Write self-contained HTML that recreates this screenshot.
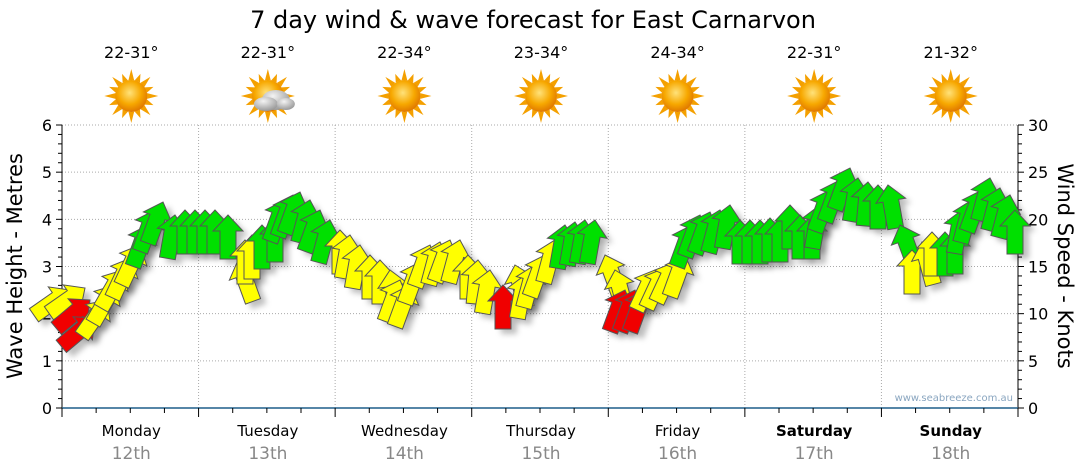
<!DOCTYPE html><html><head><style>body{margin:0;background:#fff}svg{display:block;font-family:"DejaVu Sans","Liberation Sans",sans-serif}</style></head><body>
<svg id="s" width="1080" height="475" xmlns="http://www.w3.org/2000/svg">
<defs><filter id="b" x="-50%" y="-50%" width="200%" height="200%"><feGaussianBlur stdDeviation="3"/></filter>
<radialGradient id="sun" cx="45%" cy="40%" r="60%"><stop offset="0" stop-color="#ffe27a"/><stop offset="0.6" stop-color="#f7a800"/><stop offset="1" stop-color="#e07800"/></radialGradient>
<radialGradient id="cl" cx="40%" cy="30%" r="70%"><stop offset="0" stop-color="#f4f4f4"/><stop offset="1" stop-color="#9a9a9a"/></radialGradient></defs>
<text x="533" y="28" font-size="24" text-anchor="middle" fill="#000">7 day wind &amp; wave forecast for East Carnarvon</text>
<g id="g"></g>
</svg>
<script>
const g=document.getElementById('g');let h='';
const X0=62,X1=1018,Y0=408,Y6=125,dy=(Y0-Y6)/6,dw=(X1-X0)/7;
for(let i=1;i<6;i++){const y=Y0-i*dy;h+=`<line x1="${X0}" x2="${X1}" y1="${y}" y2="${y}" stroke="#aaa" stroke-dasharray="1,2"/>`;}
h+=`<line x1="${X0}" x2="${X1}" y1="${Y6}" y2="${Y6}" stroke="#aaa" stroke-dasharray="1,2"/>`;
for(let i=1;i<7;i++){const x=X0+i*dw;h+=`<line x1="${x}" x2="${x}" y1="${Y6}" y2="${Y0}" stroke="#aaa" stroke-dasharray="1,2"/>`;}
h+=`<line x1="${X0}" x2="${X0}" y1="${Y6}" y2="${Y0}" stroke="#000"/><line x1="${X1}" x2="${X1}" y1="${Y6}" y2="${Y0}" stroke="#000"/>`;
for(let i=0;i<=30;i++){const y=Y0-i*dy/5;const big=i%5==0;h+=`<line x1="${X0-(big?6:4)}" x2="${X0}" y1="${y}" y2="${y}" stroke="#000"/><line x1="${X1}" x2="${X1+(big?6:4)}" y1="${y}" y2="${y}" stroke="#000"/>`;
if(big){h+=`<text x="${X0-10}" y="${y+6}" font-size="16" text-anchor="end">${i/5}</text><text x="${X1+10}" y="${y+6}" font-size="16">${i}</text>`;}}
h+=`<line x1="${X0}" x2="${X1}" y1="${Y0}" y2="${Y0}" stroke="#1f5f8a" stroke-width="1.5"/>`;
for(let i=0;i<=28;i++){const x=X0+i*dw/4;const big=i%4==0;h+=`<line x1="${x}" x2="${x}" y1="${Y0}" y2="${Y0+(big?9:5)}" stroke="#000"/>`;}
h+=`<text transform="translate(22,266) rotate(-90)" font-size="21" text-anchor="middle">Wave Height - Metres</text>`;
h+=`<text transform="translate(1058,266) rotate(90)" font-size="21" text-anchor="middle">Wind Speed - Knots</text>`;
h+=`<text x="1013" y="401" font-size="10" fill="#8aa6c0" text-anchor="end">www.seabreeze.com.au</text>`;
const days=['Monday','Tuesday','Wednesday','Thursday','Friday','Saturday','Sunday'],temps=['22-31°','22-31°','22-34°','23-34°','24-34°','22-31°','21-32°'];
days.forEach((d,i)=>{const x=X0+i*dw+dw/2+1;const bold=i>=5?'font-weight="bold"':'';
h+=`<text x="${x}" y="436" font-size="15" text-anchor="middle" ${bold}>${d}</text><text x="${x}" y="459" font-size="17" fill="#888" text-anchor="middle">${12+i}th</text>`;
h+=`<text x="${x}" y="58" font-size="16" text-anchor="middle">${temps[i]}</text>`;
const cy=96;let r='';for(let k=0;k<16;k++){const a=k*Math.PI/8;const c=Math.cos(a),s=Math.sin(a),l=k%2?24:27;r+=`<polygon points="${x+c*l},${cy+s*l} ${x+Math.cos(a+0.18)*16},${cy+Math.sin(a+0.18)*16} ${x+Math.cos(a-0.18)*16},${cy+Math.sin(a-0.18)*16}" fill="#f4a000"/>`;}
h+=r+`<circle cx="${x}" cy="${cy}" r="16" fill="url(#sun)"/>`;
if(i==1)h+=`<g fill="url(#cl)"><ellipse cx="${x+8}" cy="${cy+4}" rx="14" ry="10"/><ellipse cx="${x-2}" cy="${cy+8}" rx="12" ry="7"/><ellipse cx="${x+18}" cy="${cy+8}" rx="9" ry="6"/></g>`;});
const A=[[70,290,55,'Y'],[85,288,55,'Y'],[90,300,50,'R'],[95,318,50,'R'],[107,300,35,'Y'],[115,285,30,'Y'],[123,270,30,'Y'],[131,258,25,'Y'],[140,245,25,'Y'],[148,225,20,'G'],[155,210,20,'G'],[163,202,20,'G'],[175,215,10,'G'],[185,210,0,'G'],[195,210,0,'G'],[205,210,0,'G'],[215,210,0,'G'],[228,215,0,'G'],[238,260,-20,'Y'],[245,240,0,'Y'],[252,235,0,'Y'],[262,225,0,'G'],[275,218,0,'G'],[285,200,20,'G'],[293,195,20,'G'],[300,192,20,'G'],[310,200,15,'G'],[320,210,20,'G'],[330,220,15,'G'],[340,230,0,'Y'],[350,235,10,'Y'],[360,245,10,'Y'],[370,255,0,'Y'],[380,260,0,'Y'],[390,270,-10,'Y'],[400,280,20,'Y'],[410,285,20,'Y'],[420,262,20,'Y'],[430,245,20,'Y'],[440,242,15,'Y'],[450,240,20,'Y'],[460,240,15,'Y'],[468,255,0,'Y'],[478,260,5,'Y'],[490,270,10,'Y'],[503,285,0,'R'],[515,265,-15,'Y'],[525,275,10,'Y'],[535,265,15,'Y'],[545,255,20,'Y'],[555,240,15,'Y'],[565,225,10,'G'],[575,222,10,'G'],[585,220,10,'G'],[595,220,10,'G'],[605,255,-20,'Y'],[615,270,-15,'Y'],[625,290,20,'R'],[635,290,20,'R'],[645,290,20,'R'],[655,270,25,'Y'],[665,268,25,'Y'],[675,262,25,'Y'],[685,255,20,'Y'],[692,225,20,'G'],[700,215,20,'G'],[710,212,20,'G'],[720,210,15,'G'],[730,205,10,'G'],[740,220,0,'G'],[750,220,0,'G'],[760,220,0,'G'],[770,218,0,'G'],[780,218,0,'G'],[790,205,0,'G'],[800,215,0,'G'],[812,215,0,'G'],[820,205,10,'G'],[830,190,20,'G'],[840,180,20,'G'],[850,168,20,'G'],[858,178,10,'G'],[868,182,5,'G'],[878,185,0,'G'],[888,185,-10,'G'],[900,225,-20,'G'],[912,250,0,'Y'],[922,242,-15,'Y'],[932,232,0,'Y'],[945,232,0,'G'],[955,230,0,'G'],[962,210,10,'G'],[972,200,15,'G'],[982,190,20,'G'],[990,178,15,'G'],[1000,188,15,'G'],[1010,195,15,'G'],[1015,210,0,'G']];
const C={Y:'#ffff00',G:'#00e000',R:'#f00000'};
const P="0,0 15,16 8,16 8,44 -8,44 -8,16 -15,16";
let sh='',ar='';
A.forEach(([x,y,a,c])=>{sh+=`<polygon points="${P}" transform="translate(${x+6},${y+5}) rotate(${a})" fill="#000" opacity="0.25"/>`;
ar+=`<polygon points="${P}" transform="translate(${x},${y}) rotate(${a})" fill="${C[c]}" stroke="#555" stroke-width="1"/>`;});
h+=`<g filter="url(#b)">${sh}</g>`+ar;
g.innerHTML=h;
</script></body></html>
